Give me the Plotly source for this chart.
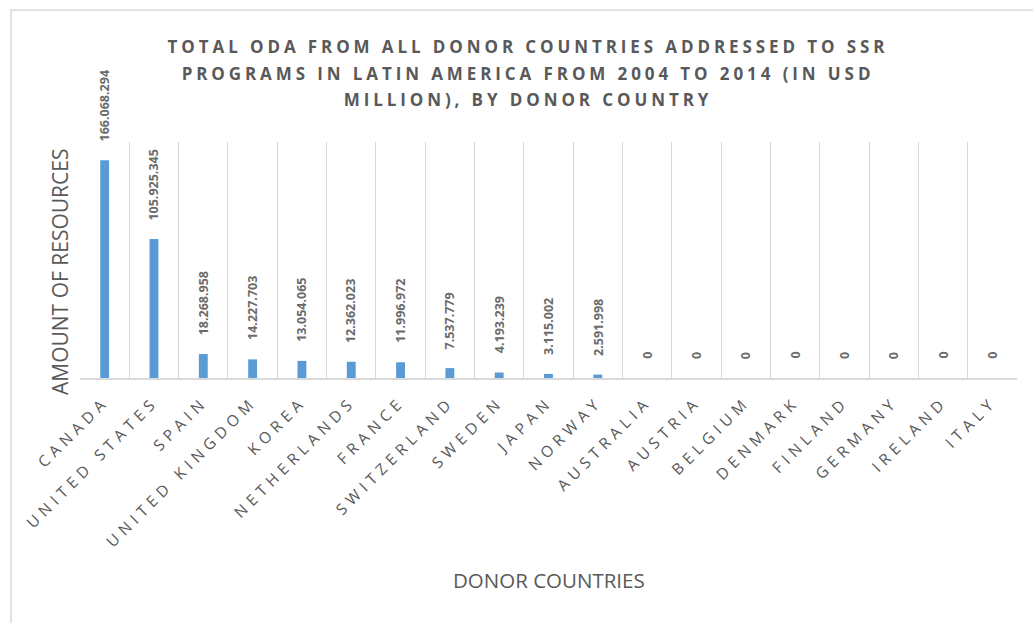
import plotly.graph_objects as go

countries = ["CANADA", "UNITED STATES", "SPAIN", "UNITED KINGDOM", "KOREA",
             "NETHERLANDS", "FRANCE", "SWITZERLAND", "SWEDEN", "JAPAN", "NORWAY",
             "AUSTRALIA", "AUSTRIA", "BELGIUM", "DENMARK", "FINLAND", "GERMANY",
             "IRELAND", "ITALY"]
values = [166068294, 105925345, 18268958, 14227703, 13054065,
          12362023, 11996972, 7537779, 4193239, 3115002, 2591998,
          0, 0, 0, 0, 0, 0, 0, 0]
labels = [f"{v:,}".replace(",", ".") for v in values]

title_text = ("TOTAL ODA FROM ALL DONOR COUNTRIES ADDRESSED TO SSR<br>"
              "PROGRAMS IN LATIN AMERICA FROM 2004 TO 2014 (IN USD<br>"
              "MILLION), BY DONOR COUNTRY")
y_title = "AMOUNT OF RESOURCES"
x_title = "DONOR COUNTRIES"

W, H = 1033, 623
L, R, T, B = 80, 16, 142, 245
pw, ph = W - L - R, H - T - B

def px_x(p):
    return (p - L) / pw

def px_y(p):
    return (H - B - p) / ph

GRAY = "#595959"
GRID = "#D9D9D9"

fig = go.Figure()
fig.add_trace(go.Bar(x=countries, y=values, width=0.18,
                     marker=dict(color="#5B9BD5", line=dict(width=0)),
                     hoverinfo="x+y"))

annotations = []
for c, v, t in zip(countries, values, labels):
    annotations.append(dict(x=c, y=v, xref="x", yref="y", text=t, showarrow=False,
                            textangle=-90, yanchor="bottom", xanchor="center",
                            yshift=17,
                            font=dict(family="Open Sans", size=12.5, color="#6a6a6a", weight="bold")))
annotations.append(dict(x=px_x(60), y=px_y(272), xref="paper", yref="paper",
                        text=y_title, showarrow=False, textangle=-90,
                        xanchor="center", yanchor="middle",
                        font=dict(family="Open Sans", size=21, color=GRAY)))
annotations.append(dict(x=0.5, y=px_y(580), xref="paper", yref="paper",
                        text=x_title, showarrow=False,
                        xanchor="center", yanchor="middle",
                        font=dict(family="Open Sans", size=20.5, color=GRAY)))

fig.update_layout(
    width=W, height=H,
    margin=dict(l=L, r=R, t=T, b=B),
    paper_bgcolor="white", plot_bgcolor="white",
    title=dict(text=title_text, x=528 / W, xanchor="center",
               y=1 - 53 / H, yanchor="top", yref="container",
               font=dict(family="Open Sans", size=17, color=GRAY, weight="bold")),
    showlegend=False,
    annotations=annotations,
    shapes=[dict(type="rect", xref="paper", yref="paper",
                 x0=px_x(11), x1=px_x(1040), y0=px_y(640), y1=px_y(10),
                 line=dict(color=GRID, width=1.5), fillcolor="rgba(0,0,0,0)",
                 layer="below")],
    xaxis=dict(type="category", tickson="boundaries", showgrid=True,
               gridcolor=GRID, gridwidth=1.2, showline=True, linecolor=GRID,
               linewidth=1.5, ticks="", tickangle=-45, ticklabelstandoff=7,
               tickfont=dict(family="Open Sans", size=15.5, color=GRAY),
               range=[-0.5, len(countries) - 0.5], fixedrange=True),
    yaxis=dict(range=[0, 180e6], showgrid=False, zeroline=False,
               showticklabels=False, ticks="", showline=False, fixedrange=True),
)

post = """
document.body.style.margin = '0';
document.querySelectorAll('.gtitle').forEach(function(t){
  t.setAttribute('letter-spacing','3.9px');
  t.querySelectorAll('tspan.line').forEach(function(s,i){ s.setAttribute('dy', (i*26.5)+'px'); });
});
document.querySelectorAll('.xtick text').forEach(function(t){ t.setAttribute('letter-spacing','5.1px'); });
"""

fig.write_html("out.html", post_script=post, config={"displayModeBar": False})
